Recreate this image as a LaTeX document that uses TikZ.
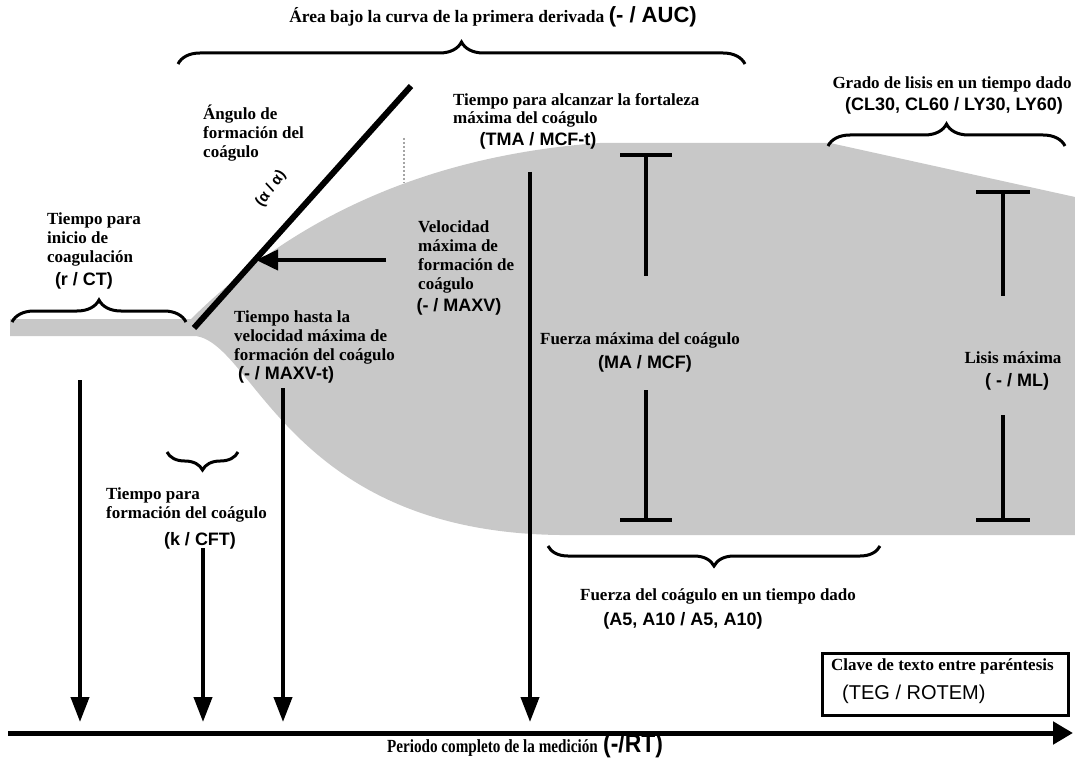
\documentclass[tikz,border=0pt]{standalone}
\usepackage{fontspec}
\setmainfont{Liberation Serif}
\newfontfamily\sansf{Liberation Sans}
\usetikzlibrary{arrows.meta,decorations.pathreplacing}
\definecolor{clot}{RGB}{200,200,200}
\definecolor{dotgray}{RGB}{165,165,165}
\begin{document}
\begin{tikzpicture}[x=1pt,y=-1pt,
  lab/.style={font=\bfseries\fontsize{17}{18.8}\selectfont, align=left, inner sep=0pt},
  code/.style={font=\sansf\bfseries\fontsize{18}{20}\selectfont, inner sep=0pt},
  varrow/.style={line width=4pt, -{Triangle[width=18pt,length=25pt]}},
  brc/.style={decorate, decoration={brace, amplitude=#1}, line width=3pt},
  brc/.default=20pt,
  tbar/.style={line width=4pt}
]
\useasboundingbox (0,0) rectangle (1075,759);
\fill[white] (0,0) rectangle (1075,759);
% clot shape
\fill[clot] (10,319) -- (191,319) .. controls (266,245) and (390,158) .. (600,143)
  -- (830,143) -- (1075,197) -- (1075,535) -- (560,535)
  .. controls (290,532) and (255,345) .. (196,336) -- (10,336) -- cycle;
% dotted guide
\coordinate (d0) at (404,138); \coordinate (d1) at (404,183);
\draw[dotgray, line width=2pt, dotted] (d0) -- (d1);
% angle line
\coordinate (ang0) at (194,328); \coordinate (ang1) at (411,86);
\draw[line width=6pt] (ang0) -- (ang1);
% horizontal arrow (max velocity)
\coordinate (h0) at (386,260); \coordinate (h1) at (256,260);
\draw[line width=4pt, -{Triangle[width=20pt,length=22pt]}] (h0) -- (h1);
% braces
\coordinate (tb0) at (178,64); \coordinate (tb1) at (745,64);
\draw[brc=22pt] (tb0) -- (tb1);
\coordinate (lb0) at (12,322); \coordinate (lb1) at (186,322);
\draw[brc=22pt] (lb0) -- (lb1);
\coordinate (rb0) at (828,146); \coordinate (rb1) at (1065,146);
\draw[brc=22pt] (rb0) -- (rb1);
\coordinate (kb0) at (238,452); \coordinate (kb1) at (167,452);
\draw[brc=18pt] (kb0) -- (kb1);
\coordinate (fb0) at (880,546); \coordinate (fb1) at (548,546);
\draw[brc=20pt] (fb0) -- (fb1);
% T bars MA/MCF
\coordinate (m0) at (646,155); \coordinate (m1) at (646,276);
\coordinate (m2) at (646,390); \coordinate (m3) at (646,520);
\draw[tbar] (620,155) -- (672,155);
\draw[tbar] (m0) -- (m1);
\draw[tbar] (m2) -- (m3);
\draw[tbar] (620,520) -- (672,520);
% T bars ML
\coordinate (l0) at (1003,192); \coordinate (l1) at (1003,296);
\coordinate (l2) at (1003,415); \coordinate (l3) at (1003,520);
\draw[tbar] (976,192) -- (1030,192);
\draw[tbar] (l0) -- (l1);
\draw[tbar] (l2) -- (l3);
\draw[tbar] (976,520) -- (1030,520);
% vertical arrows
\coordinate (a1s) at (80,380); \coordinate (a1e) at (80,722);
\coordinate (a2s) at (203,548); \coordinate (a2e) at (203,722);
\coordinate (a3s) at (283,388); \coordinate (a3e) at (283,722);
\coordinate (a4s) at (530,172); \coordinate (a4e) at (530,722);
\draw[varrow] (a1s) -- (a1e);
\draw[varrow] (a2s) -- (a2e);
\draw[varrow] (a3s) -- (a3e);
\draw[varrow] (a4s) -- (a4e);
% axis
\coordinate (ax0) at (8,733); \coordinate (ax1) at (1073,733);
\draw[line width=5pt, -{Triangle[width=22pt,length=20pt]}] (ax0) -- (ax1);
% texts
\node[inner sep=0pt, font=\bfseries\fontsize{17.5}{18}\selectfont] (title) at (493,17)
  {Área bajo la curva de la primera derivada {\sansf\fontsize{22}{22}\selectfont (- / AUC)}};
\node[lab, anchor=north west] (ct) at (47,213) {Tiempo para\\inicio de\\coagulación};
\node[code] (ctc) at (84,281) {(r / CT)};
\node[lab, anchor=north west] (alt) at (203,105) {Ángulo de\\formación del\\coágulo};
\node[code, rotate=54, font=\sansf\bfseries\fontsize{15}{15}\selectfont] (alc) at (271,189) {(α / α)};
\node[lab, anchor=north west] (vt) at (418,221) {Velocidad\\máxima de\\formación de\\coágulo};
\node[code] (vtc) at (459,307) {(- / MAXV)};
\node[lab, anchor=north west] (tma) at (453,93) {Tiempo para alcanzar la fortaleza\\máxima del coágulo};
\node[code] (tmac) at (538,141) {(TMA / MCF-t)};
\node[lab, anchor=north west] (mxt) at (234,311) {Tiempo hasta la\\velocidad máxima de\\formación del coágulo};
\node[code] (mxtc) at (286,375) {(- / MAXV-t)};
\node[lab, anchor=north west] (kt) at (106,488) {Tiempo para\\formación del coágulo};
\node[code] (ktc) at (200,541) {(k / CFT)};
\node[lab] (ma) at (640,340) {Fuerza máxima del coágulo};
\node[code] (mac) at (645,364) {(MA / MCF)};
\node[lab] (ml) at (1013,358) {Lisis máxima};
\node[code] (mlc) at (1017,382) {( - / ML)};
\node[lab] (gl) at (952,84) {Grado de lisis en un tiempo dado};
\node[code] (glc) at (954,106) {(CL30, CL60 / LY30, LY60)};
\node[lab] (fc) at (718,596) {Fuerza del coágulo en un tiempo dado};
\node[code] (fcc) at (683,621) {(A5, A10 / A5, A10)};
% legend
\node[draw, line width=3pt, minimum width=246pt, minimum height=62pt, inner sep=0pt] (key) at (945,684) {};
\node[lab, anchor=north west] (keyt) at (831,658) {Clave de texto entre paréntesis};
\node[inner sep=0pt, font=\sansf\fontsize{20}{20}\selectfont, anchor=west] (keyc) at (842,694) {(TEG / ROTEM)};
\node[inner sep=0pt, font=\bfseries\fontsize{18.5}{18.5}\selectfont, anchor=base east] (rt) at (598,752) {\scalebox{0.82}[1]{Periodo completo de la medición}};
\node[inner sep=0pt, font=\sansf\bfseries\fontsize{26}{26}\selectfont, anchor=base west] (rtc) at (603,752) {\scalebox{0.88}[1]{(-/RT)}};
\end{tikzpicture}
\end{document}
